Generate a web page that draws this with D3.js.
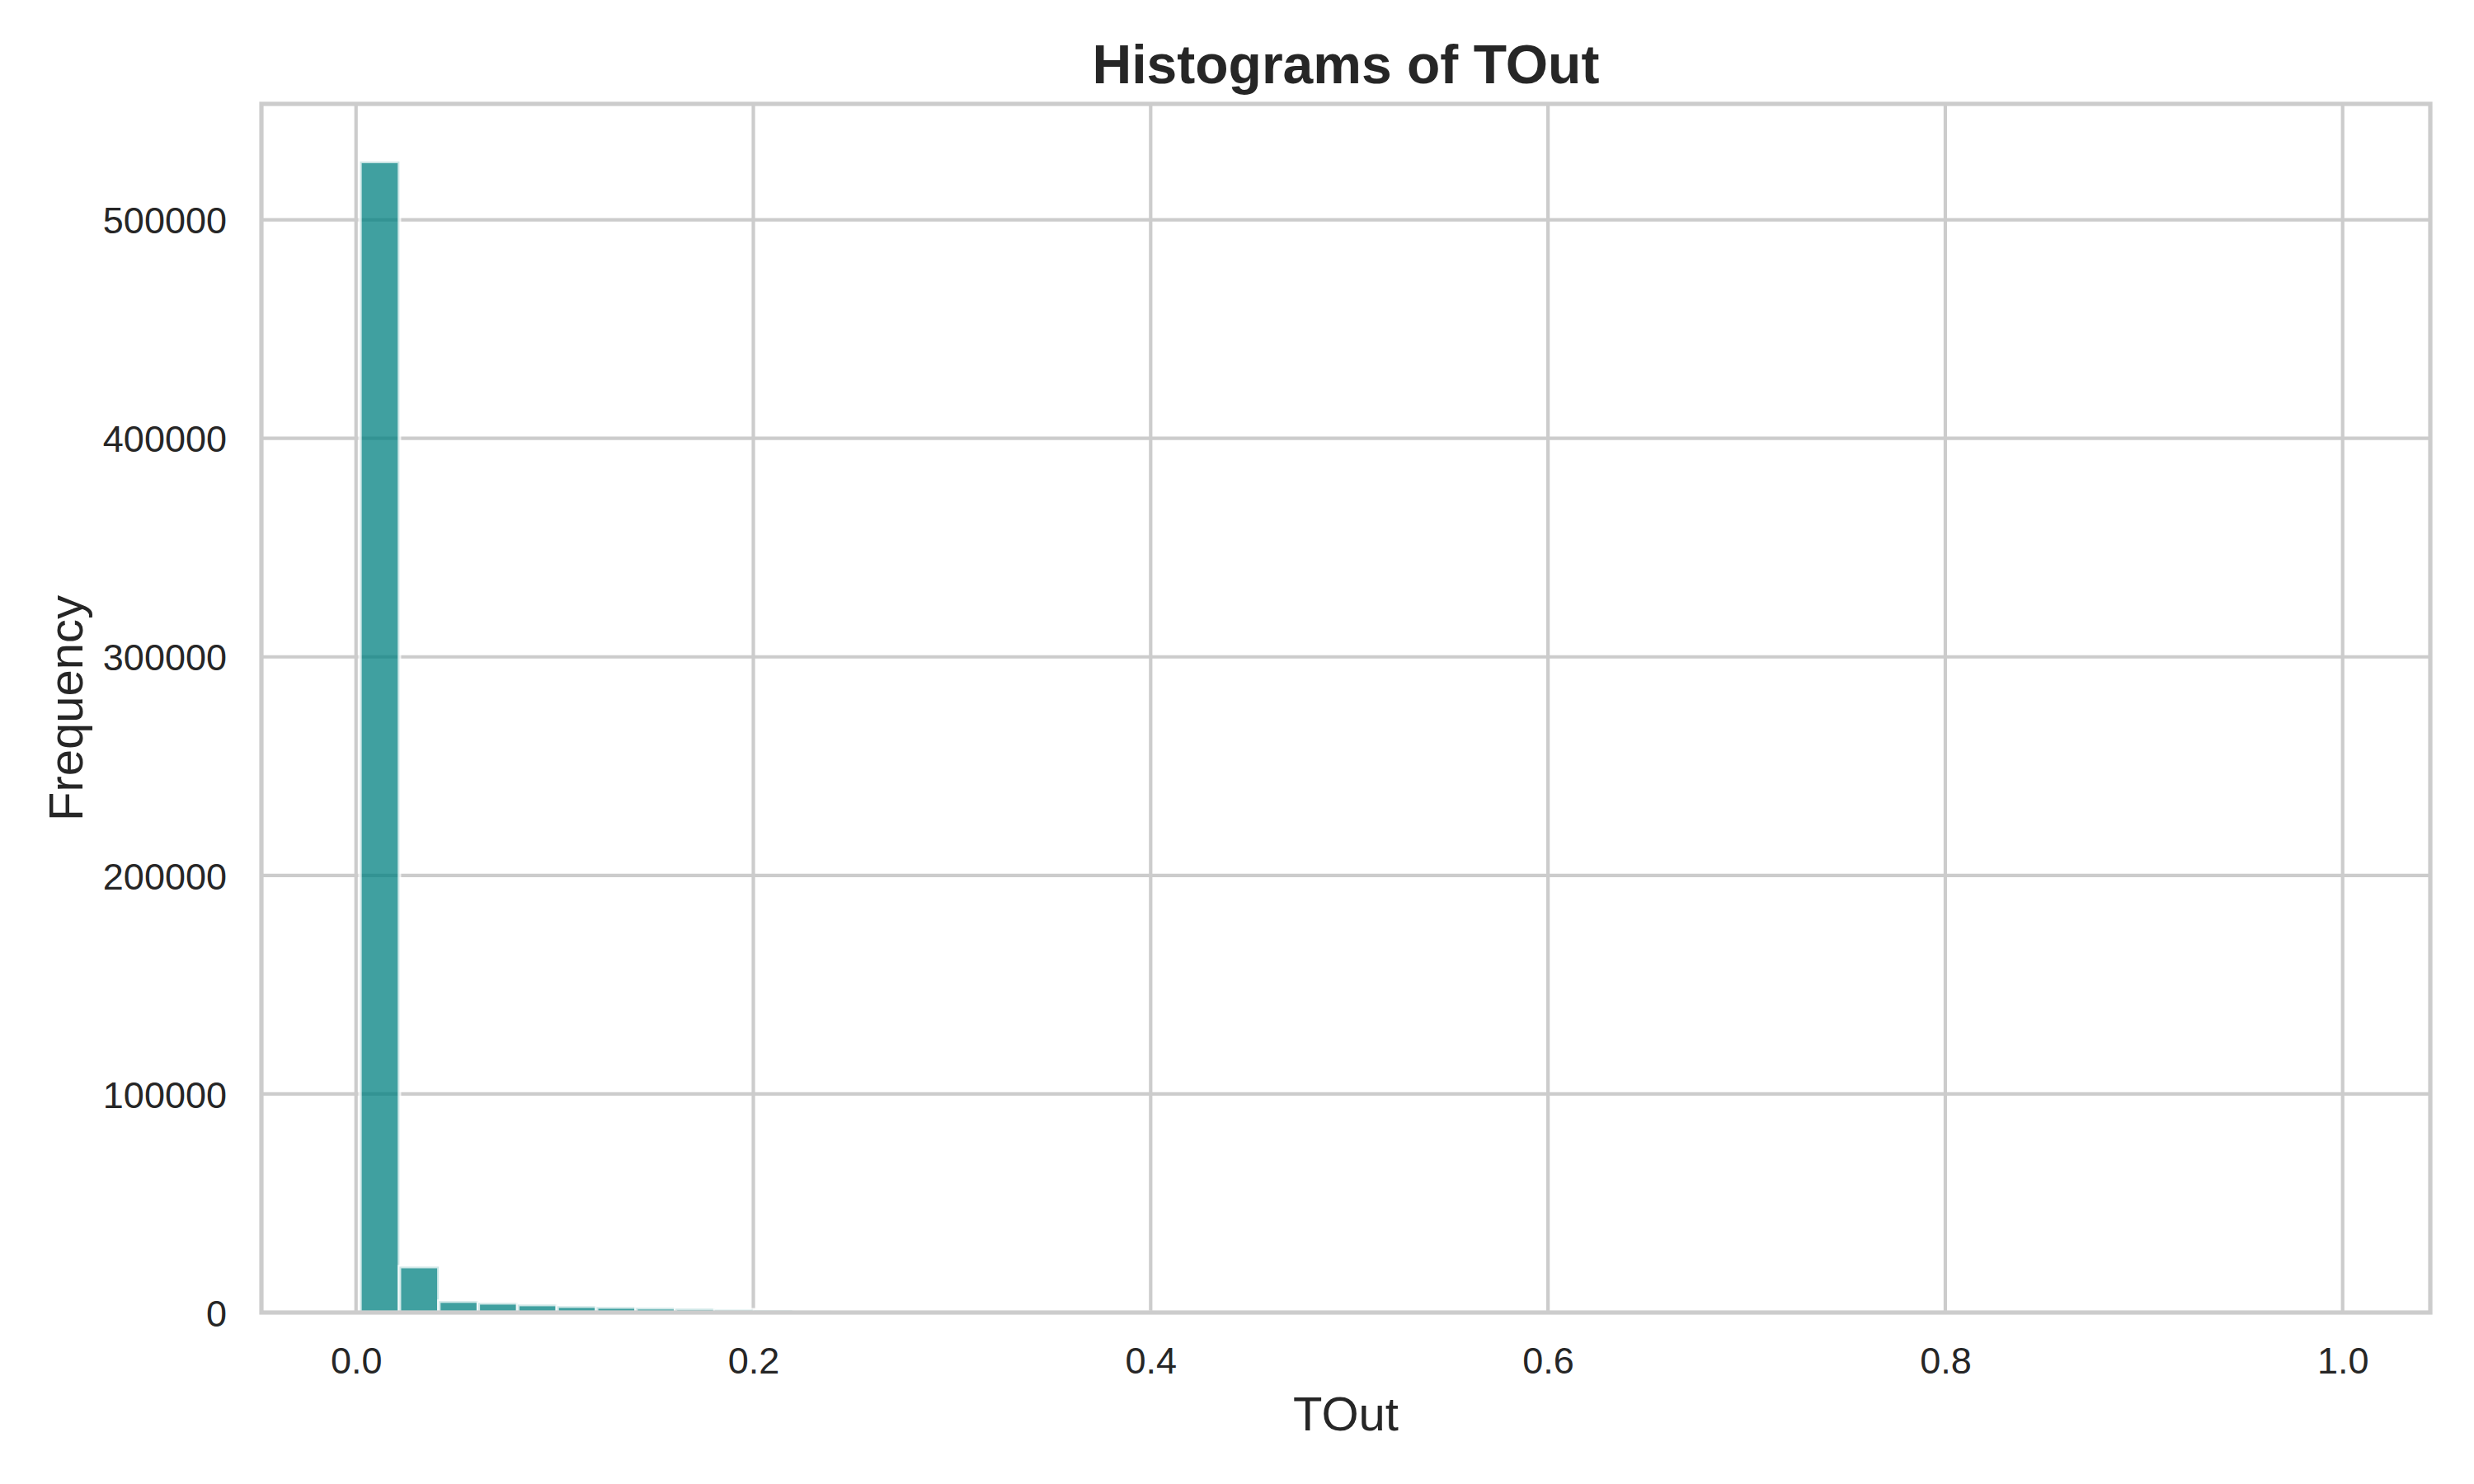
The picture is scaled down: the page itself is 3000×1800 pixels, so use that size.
<!DOCTYPE html>
<html>
<head>
<meta charset="utf-8">
<script src="https://cdn.jsdelivr.net/npm/d3@7"></script>
<style>
  body { margin: 0; background: #fff; }
  text { font-family: "Liberation Sans", Arial, sans-serif; fill: #262626; }
</style>
</head>
<body>
<script>
// histogram of TOut, 50 bins
var binStart = 0.002;
var binWidth = 0.01985;
var counts = [
  526700, 21000, 5200, 4400, 3650, 2900, 2500, 2150, 1770, 1300,
  1000, 800, 600, 450, 350, 280, 220, 170, 130, 100,
  80, 60, 50, 40, 30, 25, 20, 15, 12, 10,
  8, 6, 5, 4, 3, 3, 2, 2, 2, 1,
  1, 1, 1, 1, 1, 0, 0, 0, 0, 1
];
var xTicks = [0.0, 0.2, 0.4, 0.6, 0.8, 1.0];
var yTicks = [0, 100000, 200000, 300000, 400000, 500000];

var W = 3000, H = 1800;
var margin = {top: 126, right: 53, bottom: 208, left: 317};
var iw = W - margin.left - margin.right;
var ih = H - margin.top - margin.bottom;

var bins = counts.map(function(c, i) {
  return {x0: binStart + i * binWidth, x1: binStart + (i + 1) * binWidth, n: c};
});
var binEnd = bins[bins.length - 1].x1;
var pad = 0.05 * (binEnd - binStart);

var x = d3.scaleLinear().domain([binStart - pad, binEnd + pad]).range([0, iw]);
var y = d3.scaleLinear().domain([0, d3.max(counts) * 1.05]).range([ih, 0]);

var svg = d3.select('body').append('svg')
  .attr('width', W).attr('height', H);

var g = svg.append('g')
  .attr('transform', 'translate(' + margin.left + ',' + margin.top + ')');

// grid
g.append('g').selectAll('line').data(xTicks).enter().append('line')
  .attr('x1', function(d) { return x(d) }).attr('x2', function(d) { return x(d) })
  .attr('y1', 0).attr('y2', ih)
  .attr('stroke', '#cccccc').attr('stroke-width', 4.2);
g.append('g').selectAll('line').data(yTicks).enter().append('line')
  .attr('x1', 0).attr('x2', iw)
  .attr('y1', function(d) { return y(d) }).attr('y2', function(d) { return y(d) })
  .attr('stroke', '#cccccc').attr('stroke-width', 4.2);

// bars
g.append('g').selectAll('rect').data(bins).enter().append('rect')
  .attr('x', function(d) { return x(d.x0) })
  .attr('width', function(d) { return x(d.x1) - x(d.x0) })
  .attr('y', function(d) { return y(d.n) })
  .attr('height', function(d) { return y(0) - y(d.n) })
  .attr('fill', '#008080').attr('fill-opacity', 0.75)
  .attr('stroke', '#ffffff').attr('stroke-opacity', 0.75)
  .attr('stroke-width', 4.2);

// spines
g.append('rect')
  .attr('x', 0).attr('y', 0).attr('width', iw).attr('height', ih)
  .attr('fill', 'none').attr('stroke', '#cccccc').attr('stroke-width', 5.2);

// axes
var xAxis = d3.axisBottom(x).tickValues(xTicks).tickFormat(d3.format('.1f')).tickSize(0).tickPadding(0);
var yAxis = d3.axisLeft(y).tickValues(yTicks).tickFormat(d3.format('d')).tickSize(0).tickPadding(0);

var gx = g.append('g').attr('transform', 'translate(0,' + ih + ')').call(xAxis);
gx.select('.domain').remove();
gx.selectAll('text')
  .attr('font-size', 45).attr('fill', '#262626')
  .attr('y', 74).attr('dy', null);

var gy = g.append('g').call(yAxis);
gy.select('.domain').remove();
gy.selectAll('text')
  .attr('font-size', 45).attr('fill', '#262626')
  .attr('x', -42).attr('dy', '0.36em');

// labels
svg.append('text')
  .attr('x', margin.left + iw / 2).attr('y', 101)
  .attr('text-anchor', 'middle')
  .attr('font-size', 66).attr('font-weight', 'bold')
  .text('Histograms of TOut');

svg.append('text')
  .attr('x', margin.left + iw / 2).attr('y', 1735)
  .attr('text-anchor', 'middle')
  .attr('font-size', 58)
  .text('TOut');

svg.append('text')
  .attr('transform', 'translate(100,' + (margin.top + ih / 2) + ') rotate(-90)')
  .attr('text-anchor', 'middle')
  .attr('font-size', 58)
  .text('Frequency');
</script>
</body>
</html>
